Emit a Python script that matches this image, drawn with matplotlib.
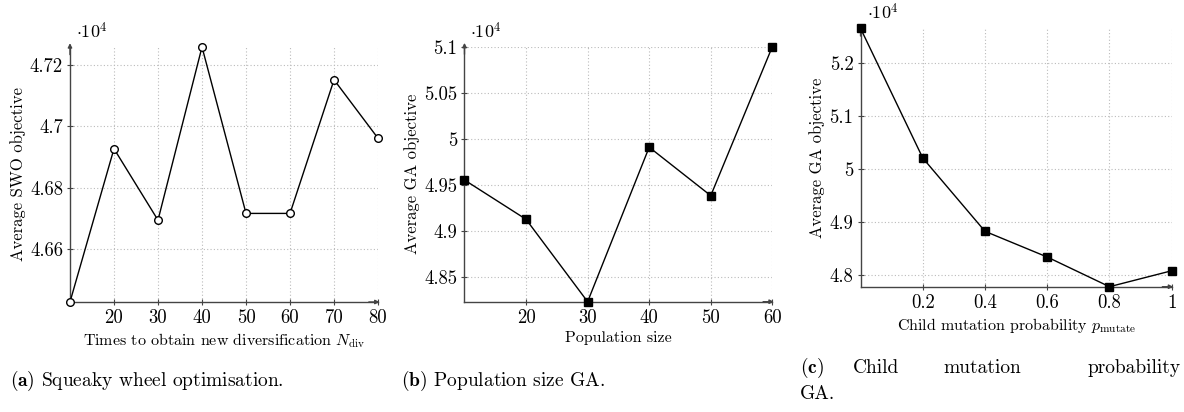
import matplotlib
matplotlib.use("Agg")
import matplotlib.pyplot as plt
from matplotlib.transforms import offset_copy

plt.rcParams['font.family'] = 'cmr10'
plt.rcParams['mathtext.fontset'] = 'cm'
plt.rcParams['axes.formatter.use_mathtext'] = True

# (a) squeaky wheel optimisation
n_div = [10, 20, 30, 40, 50, 60, 70, 80]
swo_obj = [4.6427, 4.6927, 4.6694, 4.7259, 4.6716, 4.6716, 4.7152, 4.6961]
swo_ticks = [4.66, 4.68, 4.70, 4.72]
swo_ticklabels = ['4.66', '4.68', '4.7', '4.72']

# (b) population size GA
pop_size = [10, 20, 30, 40, 50, 60]
pop_obj = [4.9557, 4.9130, 4.8235, 4.9913, 4.9387, 5.1005]
pop_ticks = [4.85, 4.90, 4.95, 5.00, 5.05, 5.10]
pop_ticklabels = ['4.85', '4.9', '4.95', '5', '5.05', '5.1']

# (c) child mutation probability GA
p_mut = [0.0, 0.2, 0.4, 0.6, 0.8, 1.0]
mut_obj = [5.2649, 5.0202, 4.8819, 4.8334, 4.7774, 4.8075]
mut_ticks = [4.8, 4.9, 5.0, 5.1, 5.2]
mut_ticklabels = ['4.8', '4.9', '5', '5.1', '5.2']

fig = plt.figure(figsize=(11.84, 4.12), dpi=100)


def style(ax, x, y, xticks, xticklabels, yticks, yticklabels, xlabel, ylabel):
    ax.set_xlim(min(x), max(x))
    ax.set_ylim(min(y), max(y))
    ax.set_xticks(xticks)
    ax.set_xticklabels(xticklabels)
    ax.set_yticks(yticks)
    ax.set_yticklabels(yticklabels)
    ax.grid(True, linestyle=(0, (1, 2)), color='#bbbbbb', linewidth=0.8)
    ax.set_axisbelow(True)
    for s in ['top', 'right']:
        ax.spines[s].set_visible(False)
    for s in ['left', 'bottom']:
        ax.spines[s].set_color('#444444')
        ax.spines[s].set_linewidth(1.0)
    ax.tick_params(direction='inout', length=4, width=0.8, color='#444444',
                   labelsize=13.5, pad=3)
    ax.set_xlabel(xlabel, fontsize=11.5, labelpad=3)
    ax.set_ylabel(ylabel, fontsize=12, labelpad=3)
    # axis arrows
    ax.annotate('', xy=(1.005, 0), xytext=(0.97, 0), xycoords='axes fraction',
                arrowprops=dict(arrowstyle='-|>', color='#444444', lw=1.0,
                                mutation_scale=6, shrinkA=0, shrinkB=0))
    ax.annotate('', xy=(0, 1.015), xytext=(0, 0.97), xycoords='axes fraction',
                arrowprops=dict(arrowstyle='-|>', color='#444444', lw=1.0,
                                mutation_scale=6, shrinkA=0, shrinkB=0))
    # scale factor label just above the top-left corner
    tr = offset_copy(ax.transAxes, fig=fig, x=6, y=8.5, units='dots')
    ax.text(0, 1, r'$\cdot 10^4$', transform=tr,
            fontsize=13, ha='left', va='baseline')


ax1 = fig.add_axes([0.0591, 0.267, 0.2602, 0.619])
ax1.plot(n_div, swo_obj, color='black', lw=1.0, marker='o', markersize=5.5,
         markerfacecolor='white', markeredgecolor='black', markeredgewidth=1.0,
         clip_on=False, zorder=5)
style(ax1, n_div, swo_obj, [20, 30, 40, 50, 60, 70, 80],
      ['20', '30', '40', '50', '60', '70', '80'], swo_ticks, swo_ticklabels,
      r'Times to obtain new diversification $N_{\rm div}$', 'Average SWO objective')

ax2 = fig.add_axes([0.3923, 0.2677, 0.26, 0.619])
ax2.plot(pop_size, pop_obj, color='black', lw=1.0, marker='s', markersize=5.5,
         clip_on=False, zorder=5)
style(ax2, pop_size, pop_obj, [20, 30, 40, 50, 60],
      ['20', '30', '40', '50', '60'], pop_ticks, pop_ticklabels,
      'Population size', 'Average GA objective')

ax3 = fig.add_axes([0.7268, 0.3041, 0.2628, 0.6272])
ax3.plot(p_mut, mut_obj, color='black', lw=1.0, marker='s', markersize=5.5,
         clip_on=False, zorder=5)
style(ax3, p_mut, mut_obj, [0.2, 0.4, 0.6, 0.8, 1.0],
      ['0.2', '0.4', '0.6', '0.8', '1'], mut_ticks, mut_ticklabels,
      r'Child mutation probability $p_{\rm mutate}$', 'Average GA objective')

# captions
cap_fs = 14
fig.text(10 / 1184, 1 - 381 / 412, r'$\mathbf{(a)}$ Squeaky wheel optimisation.',
         fontsize=cap_fs, ha='left', va='center')
fig.text(401 / 1184, 1 - 381 / 412, r'$\mathbf{(b)}$ Population size GA.',
         fontsize=cap_fs, ha='left', va='center')
# justified first line of caption (c)
c_words = [r'$\mathbf{(c)}$', 'Child', 'mutation', 'probability']
c_x = [800, 853, 943, 1181]
for i, (w, xx) in enumerate(zip(c_words, c_x)):
    fig.text(xx / 1184, 1 - 368 / 412, w, fontsize=cap_fs,
             ha='right' if i == len(c_words) - 1 else 'left', va='center')
fig.text(800 / 1184, 1 - 394 / 412, 'GA.', fontsize=cap_fs, ha='left', va='center')

fig.savefig('out.png', dpi=100)
